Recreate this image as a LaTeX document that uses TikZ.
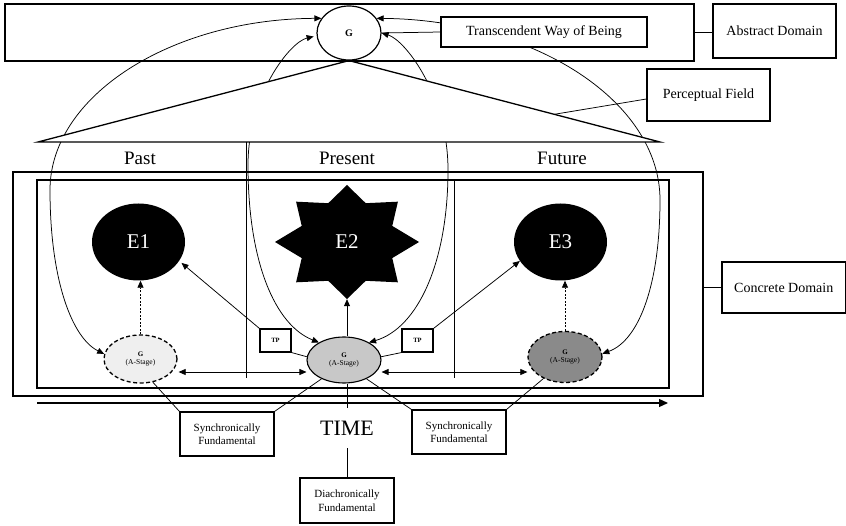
\documentclass[tikz,border=0pt]{standalone}
\usepackage{fontspec}
\setmainfont{Liberation Serif}
\usetikzlibrary{arrows.meta,shapes.geometric,calc,backgrounds}
\definecolor{pastfill}{HTML}{EFEFEF}
\definecolor{presfill}{HTML}{C8C8C8}
\definecolor{futfill}{HTML}{8A8A8A}

\begin{document}
\begin{tikzpicture}[x=1pt,y=-1pt,
  box/.style={draw, fill=white, line width=1.1pt, inner sep=0pt, align=center},
  frame/.style={draw, line width=1.3pt, inner sep=0pt},
  lbl/.style={font=\fontsize{14}{16}\selectfont},
  small/.style={font=\fontsize{11}{13.5}\selectfont},
  era/.style={font=\fontsize{19}{22}\selectfont},
  event/.style={ellipse, fill=black, text=white, inner sep=0pt, font=\fontsize{21}{24}\selectfont},
  astage/.style={ellipse, draw, line width=1.1pt, inner sep=0pt, align=center, font=\fontsize{7.5}{8.5}\selectfont},
  broken/.style={dash pattern=on 4pt off 2.5pt, line width=1.3pt},
  thin/.style={line width=0.75pt},
  tip/.style={-{Triangle[length=7pt,width=6pt]}},
  both/.style={{Triangle[length=7pt,width=6pt]}-{Triangle[length=7pt,width=6pt]}},
]
\useasboundingbox (0,0) rectangle (846,526);

% ---- abstract domain ----
\node[frame, minimum width=689, minimum height=57] (abs) at (349.5,32.5) {};
\node[box, lbl, minimum width=123, minimum height=54] (absL) at (774.5,31) {Abstract Domain};
\node[ellipse, draw, fill=white, line width=1.2pt, minimum width=64, minimum height=54, inner sep=0pt,
      font=\bfseries\fontsize{10}{12}\selectfont] (G) at (349,33) {G};
\node[box, lbl, minimum width=206, minimum height=30] (twb) at (544,32) {Transcendent Way of Being};
\node[box, lbl, minimum width=123, minimum height=52] (perc) at (708.5,95) {Perceptual Field};
\coordinate (triL) at (38,142);
\coordinate (triR) at (660,142);

% ---- time periods ----
\node[era] (past) at (140,158) {Past};
\node[era] (present) at (347,158) {Present};
\node[era] (future) at (562,158) {Future};

% ---- concrete domain ----
\node[frame, minimum width=690, minimum height=224] (conc) at (358,284) {};
\node[draw, line width=1.8pt, inner sep=0pt, minimum width=632, minimum height=208] (inner) at (353,284) {};
\node[box, lbl, minimum width=123.5, minimum height=51] (concL) at (783.75,287.5) {Concrete Domain};

% events
\node[event, minimum width=93, minimum height=77] (E1) at (138.5,242) {E1};
\fill[black] plot[samples at={0,...,15}, variable=\i]
  ({347+ifthenelse(mod(\i,2)==0,72,49)*cos(\i*22.5)}, {242+ifthenelse(mod(\i,2)==0,57,42)*sin(\i*22.5)}) -- cycle;
\node[text=white, font=\fontsize{21}{24}\selectfont, inner sep=0pt, minimum width=144, minimum height=114] (E2) at (347,242) {E2};
\node[event, minimum width=93, minimum height=77] (E3) at (560.5,242) {E3};

% A-stages of G
\node[astage, broken, fill=pastfill, minimum width=73, minimum height=48] (pastG) at (140.5,359)
  {{\bfseries\fontsize{7}{9}\selectfont G}\\(A-Stage)};
\node[astage, fill=presfill, minimum width=74, minimum height=46] (presG) at (344,360)
  {{\bfseries\fontsize{7}{9}\selectfont G}\\(A-Stage)};
\node[astage, broken, fill=futfill, minimum width=74, minimum height=51] (futG) at (565,357)
  {{\bfseries\fontsize{7}{9}\selectfont G}\\(A-Stage)};

% temporal perspective boxes
\node[box, minimum width=31, minimum height=23, font=\bfseries\fontsize{6.5}{7}\selectfont] (tpL) at (275.5,340.5) {TP};
\node[box, minimum width=31, minimum height=23, font=\bfseries\fontsize{6.5}{7}\selectfont] (tpR) at (417.5,340.5) {TP};

% time axis and fundamental relations
\coordinate (t0) at (37,403);
\coordinate (t1) at (668,403);
\node[font=\fontsize{22}{24}\selectfont, minimum height=40, inner sep=0pt] (TIME) at (347,428) {TIME};
\node[box, small, minimum width=94, minimum height=44] (syncL) at (227,434) {Synchronically\\Fundamental};
\node[box, small, minimum width=94, minimum height=44] (syncR) at (459,432) {Synchronically\\Fundamental};
\node[box, small, minimum width=94, minimum height=45] (dia) at (347,500.5) {Diachronically\\Fundamental};

% ---- curved relations between G and its A-stages (partly hidden by the field) ----
\begin{scope}[on background layer]
  \draw[thin, both] (G.152) .. controls (171,19) and (50,96) .. (50,190)
        .. controls (50,280) and (72,338) .. (pastG.172);
  \draw[thin, both, shorten <=3pt] (G.185) .. controls (290,42) and (248,95) .. (248,165)
        .. controls (248,262) and (275,325) .. (presG.145);
  \draw[thin, both] (G.28) .. controls (534,20) and (660,101) .. (660,200)
        .. controls (660,282) and (640,340) .. (futG.5);
  \draw[thin, both] (G.0) .. controls (405,40) and (448,95) .. (448,170)
        .. controls (448,262) and (418,328) .. (presG.35);
  % perceptual field
  \draw[fill=white, line width=1.3pt, line join=miter] (G.south) -- (triL) -- (triR) -- cycle;
\end{scope}

% ---- straight connectors ----
\draw[thin] (abs.east) -- (absL.west |- abs.east);
\draw[thin] (twb.west) -- (G.east);
\draw[thin] ($(G.south)!0.66!(triR)$) -- ($(perc.west)+(0,4)$);
\draw[thin] (concL.west -| conc.east) -- (concL.west);

\draw[thin] (246,142) -- (246,378);
\draw[thin] (454,180) -- (454,378);

\draw[thin, tip, dash pattern=on 2pt off 1.5pt] (pastG.north) -- (pastG.north |- E1.south);
\draw[thin, tip, dash pattern=on 2pt off 1.5pt] (futG.north) -- (futG.north |- E3.south);
\draw[thin, tip] (E2.south |- presG.north) -- (E2.south);

\draw[thin, tip, shorten >=3pt] (tpL.north west) -- (E1.-25);
\draw[thin, tip] (tpR.north east) -- (E3.205);
\draw[thin] (tpL.south east) -- (presG.175);
\draw[thin] (tpR.south west) -- (presG.5);

\draw[thin, both] ($(pastG.east)+(1,13)$) -- ($(presG.west)+(0,12)$);
\draw[thin, both] ($(presG.east)+(0,12)$) -- ($(futG.west)+(0,15)$);

\draw[line width=1.2pt, -{Triangle[length=9pt,width=8pt]}] (t0) -- (t1);

\draw[thin] (pastG.-62) -- (syncL.north west);
\draw[thin] (presG.-140) -- (syncL.north east);
\draw[thin] (presG.-40) -- (syncR.north west);
\draw[thin] (futG.-135) -- (syncR.north east);

\draw[thin] (TIME.north |- presG.south) -- (TIME.north);
\draw[thin] (TIME.south) -- (dia.north);
\end{tikzpicture}
\end{document}
